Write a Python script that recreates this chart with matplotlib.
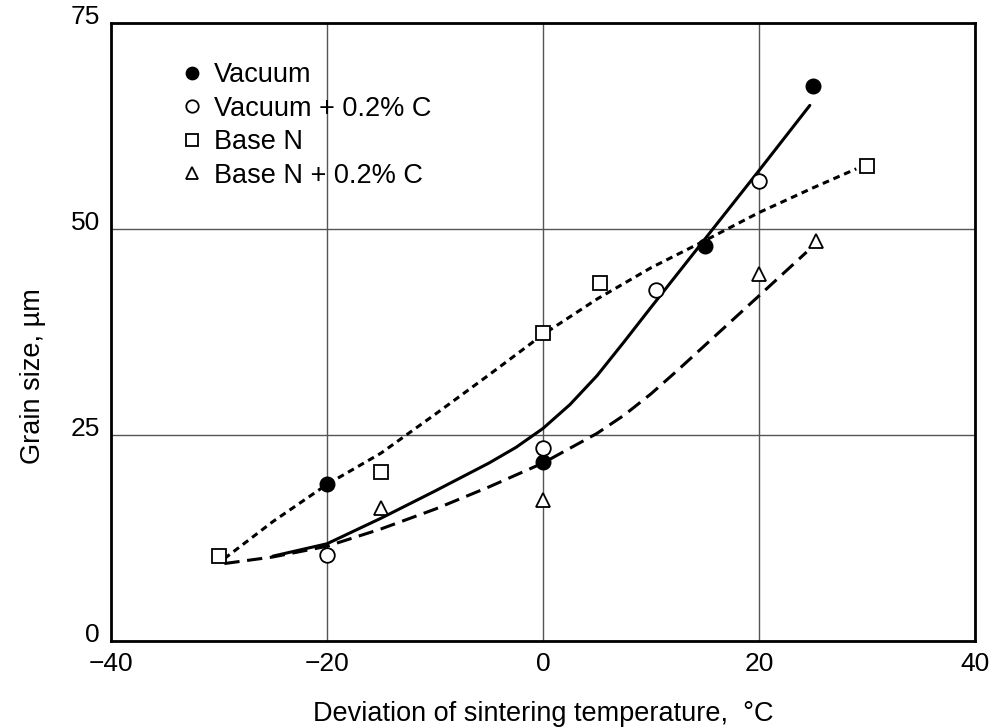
import numpy as np
import matplotlib.pyplot as plt
from matplotlib.transforms import ScaledTranslation

plt.rcParams['font.family'] = ['Liberation Sans', 'DejaVu Sans']

# measured points
vac_x = [-20, 0, 15, 25]
vac_y = [19.1, 21.7, 47.9, 67.4]
vacc_x = [-20, 0, 10.5, 20]
vacc_y = [10.4, 23.4, 42.6, 55.8]
basen_x = [-30, -15, 0, 5.3, 30]
basen_y = [10.3, 20.5, 37.4, 43.5, 57.7]
basenc_x = [-15, 0, 20, 25.3]
basenc_y = [16.1, 17.1, 44.6, 48.5]

# fitted curves
solid_x = [-25, -20, -15, -10, -7.5, -5, -2.5, 0, 2.5, 5, 7.5, 10, 15, 20, 24.7]
solid_y = [10.3, 11.8, 14.9, 18.2, 19.9, 21.6, 23.5, 25.8, 28.7, 32.2, 36.3, 40.5, 48.8, 57.1, 65.0]
dotted_x = [-29.5, -25, -20, -15, -10, -5, 0, 5, 10, 15, 20, 25, 29]
dotted_y = [10.0, 14.5, 19.0, 22.8, 27.5, 32.3, 37.2, 41.5, 45.3, 48.6, 52.0, 55.0, 57.3]
dashed_x = [-29.5, -25, -20, -15, -10, -5, 0, 5, 7.5, 10, 12.5, 15, 20, 24.4]
dashed_y = [9.4, 10.2, 11.5, 13.6, 16.0, 18.7, 21.6, 25.2, 27.4, 30.0, 32.9, 35.9, 41.9, 47.2]

fig = plt.figure(figsize=(9.96, 7.28), dpi=100)
ax = fig.add_axes([0.1114, 0.1195, 0.8676, 0.8489])

ax.plot(solid_x, solid_y, color='black', lw=2.2, solid_capstyle='round')
ax.plot(dotted_x, dotted_y, color='black', lw=2.2, dashes=(2.2, 1.6))
ax.plot(dashed_x, dashed_y, color='black', lw=2.2, dashes=(5, 2.5))

ax.plot(vac_x, vac_y, 'o', ms=10.5, mfc='black', mec='black', label='Vacuum')
ax.plot(vacc_x, vacc_y, 'o', ms=10.5, mfc='white', mec='black', mew=1.3, label='Vacuum + 0.2% C')
ax.plot(basen_x, basen_y, 's', ms=10, mfc='white', mec='black', mew=1.3, label='Base N')
ax.plot(basenc_x, basenc_y, '^', ms=10.5, mfc='white', mec='black', mew=1.3, label='Base N + 0.2% C')

ax.set_xlim(-40, 40)
ax.set_ylim(0, 75)
ax.set_xticks([-40, -20, 0, 20, 40])
ax.set_yticks([0, 25, 50, 75])
ax.grid(True, color='#555555', lw=1)
ax.tick_params(length=0, labelsize=19, pad=8)
for s in ax.spines.values():
    s.set_linewidth(2)

# y tick labels sit a little above their gridlines in the original
up = ScaledTranslation(0, 6 / 72, fig.dpi_scale_trans)
for lab in ax.get_yticklabels():
    lab.set_transform(lab.get_transform() + up)

ax.set_xlabel('Deviation of sintering temperature,  \u00b0C', fontsize=19.5, labelpad=18)
ax.set_ylabel('Grain size, \u00b5m', fontsize=19.5)
ax.yaxis.set_label_coords(-0.075, 0.428)

leg = ax.legend(loc='upper left', bbox_to_anchor=(0.056, 0.976), frameon=False,
                fontsize=19.5, markerscale=0.85, handlelength=0.6, handletextpad=0.5,
                labelspacing=0.28)

fig.savefig('out.png', dpi=100)
